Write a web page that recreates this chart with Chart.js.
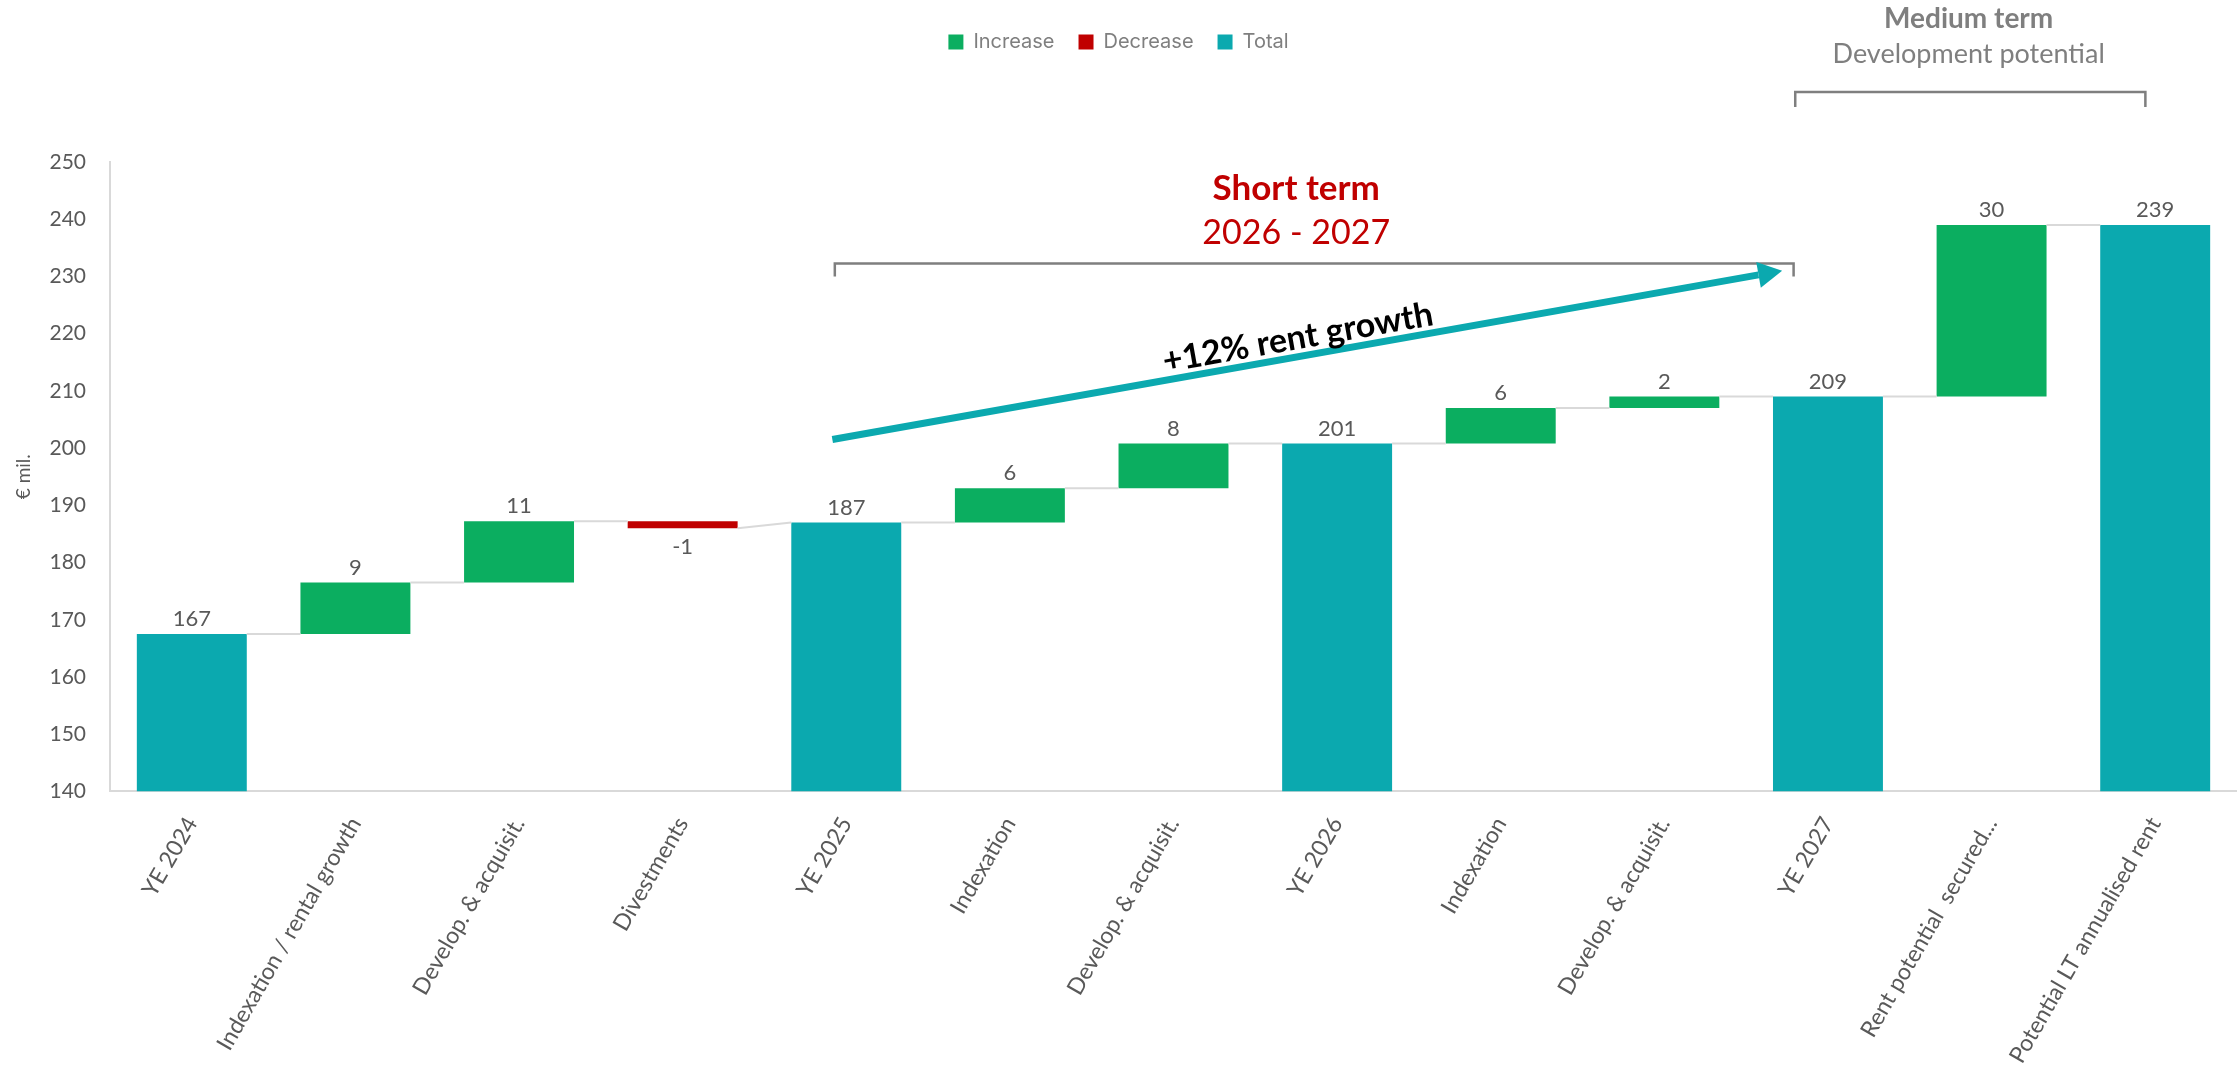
<!DOCTYPE html>
<html>
<head>
<meta charset="utf-8">
<title>Rent growth waterfall</title>
<script src="https://cdn.jsdelivr.net/npm/chart.js"></script>
<style>
  html, body { margin: 0; padding: 0; background: #fff; }
  .chart-box { width: 2237px; height: 1081px; position: relative; }
</style>
</head>
<body>
<div class="chart-box"><canvas id="waterfall"></canvas></div>
<script>
// categories and values
const categories = ['YE 2024', 'Indexation / rental growth', 'Develop. & acquisit.', 'Divestments', 'YE 2025',
  'Indexation', 'Develop. & acquisit.', 'YE 2026', 'Indexation', 'Develop. & acquisit.', 'YE 2027',
  'Rent potential  secured...', 'Potential LT annualised rent'];
const barKinds  = ['total', 'increase', 'increase', 'decrease', 'total', 'increase', 'increase', 'total',
  'increase', 'increase', 'total', 'increase', 'total'];
const barLows   = [140, 167.5, 176.5, 186, 140, 187, 193, 140, 200.8, 207, 140, 209, 140];
const barHighs  = [167.5, 176.5, 187.2, 187.2, 187, 193, 200.8, 200.8, 207, 209, 209, 239, 239];
const valueLabels = ['167', '9', '11', '-1', '187', '6', '8', '201', '6', '2', '209', '30', '239'];
const yTicks = [140, 150, 160, 170, 180, 190, 200, 210, 220, 230, 240, 250];

const kindColors = { increase: '#0BAE60', decrease: '#C00000', total: '#0BA9AF' };
const legendNames = { increase: 'Increase', decrease: 'Decrease', total: 'Total' };

const bodyFont = "Lato, 'Open Sans', sans-serif";

// level where a bar ends / the next one starts, for the connector lines
function endLevel(i) { return barKinds[i] === 'decrease' ? barLows[i] : barHighs[i]; }
function startLevel(i) { return barKinds[i] === 'increase' ? barLows[i] : barHighs[i]; }

const legendSpacer = {
  id: 'legendSpacer',
  beforeInit(chart) {
    const origFit = chart.legend.fit;
    chart.legend.fit = function () {
      origFit.call(this);
      this.height += 100;
    };
  }
};

const waterfallExtras = {
  id: 'waterfallExtras',
  afterDatasetsDraw(chart) {
    const ctx = chart.ctx;
    const y = chart.scales.y;
    const meta = chart.getDatasetMeta(0);
    ctx.save();

    // connectors between bars
    ctx.strokeStyle = '#d9d9d9';
    ctx.lineWidth = 2;
    for (let i = 0; i < categories.length - 1; i++) {
      const a = meta.data[i], b = meta.data[i + 1];
      ctx.beginPath();
      ctx.moveTo(a.x + a.width / 2, y.getPixelForValue(endLevel(i)));
      ctx.lineTo(b.x - b.width / 2, y.getPixelForValue(startLevel(i + 1)));
      ctx.stroke();
    }

    // value labels
    ctx.fillStyle = '#595959';
    ctx.font = '22px ' + bodyFont;
    ctx.textAlign = 'center';
    meta.data.forEach((bar, i) => {
      if (barKinds[i] === 'decrease') {
        ctx.textBaseline = 'top';
        ctx.fillText(valueLabels[i], bar.x, y.getPixelForValue(barLows[i]) + 8);
      } else {
        ctx.textBaseline = 'bottom';
        ctx.fillText(valueLabels[i], bar.x, y.getPixelForValue(barHighs[i]) - 4);
      }
    });
    ctx.restore();
  },
  afterDraw(chart) {
    const ctx = chart.ctx;
    const x = chart.scales.x, y = chart.scales.y;
    const px = v => x.getPixelForValue(v);
    const py = v => y.getPixelForValue(v);
    ctx.save();

    // brackets
    function bracket(x1, x2, top, drop) {
      ctx.strokeStyle = '#7f7f7f';
      ctx.lineWidth = 2.5;
      ctx.beginPath();
      ctx.moveTo(px(x1), py(top) + drop);
      ctx.lineTo(px(x1), py(top));
      ctx.lineTo(px(x2), py(top));
      ctx.lineTo(px(x2), py(top) + drop);
      ctx.stroke();
    }
    bracket(3.93, 9.79, 232.25, 13);
    bracket(9.8, 11.94, 262.25, 15);

    // short term heading
    ctx.textAlign = 'center';
    ctx.textBaseline = 'middle';
    ctx.fillStyle = '#C00000';
    ctx.font = 'bold 35px ' + bodyFont;
    ctx.fillText('Short term', px(6.75), py(245.25));
    ctx.font = '34px ' + bodyFont;
    ctx.fillText('2026 - 2027', px(6.75), py(237.5));

    // medium term heading
    ctx.fillStyle = '#7f7f7f';
    ctx.font = 'bold 28px ' + bodyFont;
    ctx.fillText('Medium term', px(10.86), py(275));
    ctx.font = '27px ' + bodyFont;
    ctx.fillText('Development potential', px(10.86), py(268.75));

    // growth arrow
    const ax1 = px(3.915), ay1 = py(201.5), ax2 = px(9.72), ay2 = py(231);
    const ang = Math.atan2(ay2 - ay1, ax2 - ax1);
    const head = 24;
    ctx.strokeStyle = '#0BA9AF';
    ctx.fillStyle = '#0BA9AF';
    ctx.lineWidth = 7;
    ctx.beginPath();
    ctx.moveTo(ax1, ay1);
    ctx.lineTo(ax2 - head * Math.cos(ang), ay2 - head * Math.sin(ang));
    ctx.stroke();
    ctx.beginPath();
    ctx.moveTo(ax2, ay2);
    ctx.lineTo(ax2 - head * Math.cos(ang) + 13 * Math.sin(ang), ay2 - head * Math.sin(ang) - 13 * Math.cos(ang));
    ctx.lineTo(ax2 - head * Math.cos(ang) - 13 * Math.sin(ang), ay2 - head * Math.sin(ang) + 13 * Math.cos(ang));
    ctx.closePath();
    ctx.fill();

    ctx.translate(px(6.76), py(219.25));
    ctx.rotate(ang);
    ctx.fillStyle = '#000';
    ctx.font = 'bold 34px ' + bodyFont;
    ctx.fillText('+12% rent growth', 0, 0);
    ctx.restore();
  }
};

const ctx = document.getElementById('waterfall').getContext('2d');
new Chart(ctx, {
  type: 'bar',
  data: {
    labels: categories,
    datasets: [{
      data: categories.map((c, i) => [barLows[i], barHighs[i]]),
      backgroundColor: barKinds.map(k => kindColors[k]),
      borderWidth: 0,
      barPercentage: 0.672,
      categoryPercentage: 1
    }]
  },
  options: {
    responsive: true,
    maintainAspectRatio: false,
    animation: false,
    layout: { padding: { top: 8, right: 0, left: 0, bottom: 0 } },
    plugins: {
      tooltip: { enabled: false },
      legend: {
        position: 'top',
        onClick: null,
        labels: {
          boxWidth: 15,
          boxHeight: 15,
          padding: 24,
          color: '#7f7f7f',
          font: { family: "Inter, Roboto, sans-serif", size: 20 },
          generateLabels: () => ['increase', 'decrease', 'total'].map(k => ({
            text: legendNames[k],
            fillStyle: kindColors[k],
            strokeStyle: kindColors[k],
            lineWidth: 0,
            hidden: false,
            fontColor: '#7f7f7f'
          }))
        }
      }
    },
    scales: {
      x: {
        grid: { display: false },
        border: { display: true, color: '#d9d9d9', width: 2 },
        ticks: {
          color: '#595959',
          font: { family: bodyFont, size: 23 },
          minRotation: 60,
          maxRotation: 60,
          padding: 13,
          autoSkip: false
        }
      },
      y: {
        min: 140,
        max: 250,
        afterBuildTicks: scale => { scale.ticks = yTicks.map(v => ({ value: v })); },
        afterFit: scale => { scale.width = 110; },
        grid: { display: false },
        border: { display: true, color: '#d9d9d9', width: 2 },
        ticks: {
          color: '#595959',
          font: { family: bodyFont, size: 21 },
          padding: 16
        },
        title: {
          display: true,
          text: '€ mil.',
          color: '#595959',
          font: { family: bodyFont, size: 19 },
          padding: { top: 12, bottom: 0 }
        }
      }
    }
  },
  plugins: [legendSpacer, waterfallExtras]
});
</script>
</body>
</html>
